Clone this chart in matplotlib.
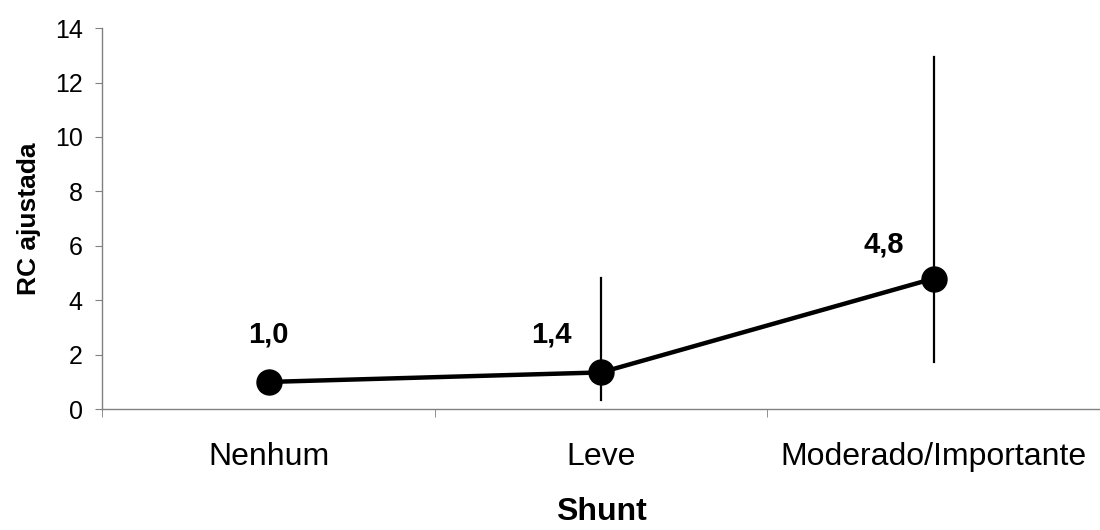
import numpy as np
import matplotlib.pyplot as plt

plt.rcParams['font.family'] = ['Liberation Sans', 'DejaVu Sans']

categories = ['Nenhum', 'Leve', 'Moderado/Importante']
rc_values = [1.0, 1.35, 4.8]
ci_low = [1.0, 0.33, 1.73]
ci_high = [1.0, 4.83, 12.93]
value_labels = ['1,0', '1,4', '4,8']

fig = plt.figure(figsize=(11, 5.3), dpi=100)
ax = fig.add_axes([0.093, 0.228, 0.907, 0.719])

x = np.arange(len(categories))
vals = np.array(rc_values)

# error bars first (no caps), then the line with markers on top
for i in range(len(x)):
    if ci_high[i] > ci_low[i]:
        ax.plot([x[i], x[i]], [ci_low[i], ci_high[i]], color='black',
                lw=1.6, zorder=2)
ax.plot(x, vals, color='black', lw=3.2, marker='o', markersize=18,
        zorder=3)

offsets = [(0, 47), (-50, 38), (-50, 34)]
for i, lab in enumerate(value_labels):
    ax.annotate(lab, (x[i], vals[i]), xytext=offsets[i],
                textcoords='offset pixels', ha='center', va='center',
                fontsize=21, fontweight='bold')

ax.set_xlim(-0.5, 2.49)
ax.set_ylim(0, 14)
ax.set_yticks(np.arange(0, 15, 2))
ax.set_xticks(x)
ax.set_xticklabels(categories)
ax.set_xticks(np.arange(-0.5, 2.6, 1.0), minor=True)
ax.tick_params(axis='x', which='major', length=0, pad=24, labelsize=23)
ax.tick_params(axis='x', which='minor', length=6, direction='out',
               color='#808080')
ax.tick_params(axis='y', length=5, direction='out', labelsize=18,
               color='#808080', pad=9)

for s in ['top', 'right']:
    ax.spines[s].set_visible(False)
for s in ['left', 'bottom']:
    ax.spines[s].set_color('#808080')
    ax.spines[s].set_linewidth(1.0)

ax.set_xlabel('Shunt', fontsize=23, fontweight='bold', labelpad=18)
ax.set_ylabel('RC ajustada', fontsize=19, fontweight='bold', labelpad=10)

fig.savefig('out.png', dpi=100)
